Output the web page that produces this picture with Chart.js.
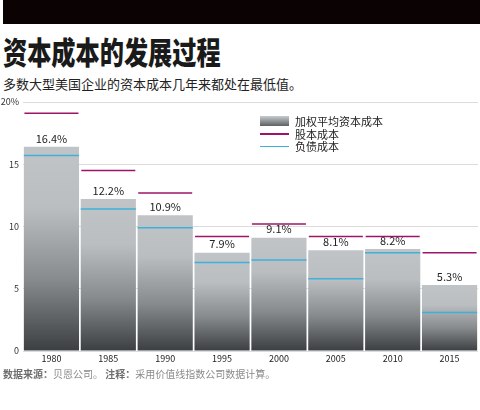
<!DOCTYPE html>
<html>
<head>
<meta charset="utf-8">
<script src="https://cdn.jsdelivr.net/npm/chart.js@4.4.1/dist/chart.umd.min.js"></script>
<style>
  body { margin: 0; width: 480px; height: 410px; background: #fff; position: relative; overflow: hidden;
         font-family: "Noto Sans CJK SC", "Noto Sans", sans-serif; }
  #topbar { position: absolute; left: 3px; top: 0; width: 477px; height: 24px; background: #0b0204; }
  #title { position: absolute; left: 3px; top: 35px; font-size: 31px; font-weight: 900; line-height: 1;
           color: #1a1a1a; transform: scaleX(0.78); transform-origin: left top; white-space: nowrap; }
  #subtitle { position: absolute; left: 3px; top: 77px; font-size: 13px; line-height: 1; color: #222; white-space: nowrap; }
  #wrap { position: absolute; left: 0; top: 92px; width: 480px; height: 276px; }
  #legend { position: absolute; left: 260px; top: 115px; font-size: 11px; color: #222; line-height: 12.5px; }
  #legend div { display: flex; align-items: center; height: 12.5px; }
  #legend span.sw { display: inline-block; width: 29px; margin-right: 6px; }
  #note { position: absolute; left: 3px; top: 368px; font-size: 10px; line-height: 12px; color: #8a8a8a; white-space: nowrap; }
  #note b { color: #6d6d6d; }
</style>
</head>
<body>
<div id="topbar"></div>
<div id="title">资本成本的发展过程</div>
<div id="subtitle">多数大型美国企业的资本成本几年来都处在最低值。</div>
<div id="wrap"><canvas id="costChart"></canvas></div>
<div id="legend">
  <div><span class="sw" style="height:10px;background:linear-gradient(#c9ccce,#5d6063);"></span>加权平均资本成本</div>
  <div><span class="sw" style="height:1.5px;background:#9e1468;"></span>股本成本</div>
  <div><span class="sw" style="height:1.5px;background:#3fb1d9;"></span>负债成本</div>
</div>
<div id="note"><b>数据来源：</b>贝恩公司。 <b>注释：</b>采用价值线指数公司数据计算。</div>
<script>
// values (%)
const years = ['1980', '1985', '1990', '1995', '2000', '2005', '2010', '2015'];
const wacc = [16.4, 12.2, 10.9, 7.9, 9.1, 8.1, 8.2, 5.3];
const equityCost = [19.1, 14.5, 12.7, 9.2, 10.2, 9.2, 9.2, 7.9];
const debtCost = [15.7, 11.4, 9.9, 7.1, 7.3, 5.8, 7.9, 3.1];
const yTicks = [0, 5, 10, 15, 20];

const FONT = '"Noto Sans CJK SC", "Noto Sans", sans-serif';
const MARK = 0.06; // half thickness of the cost marks, in %

function barGradient(context) {
    const chart = context.chart;
    const y = chart.scales.y;
    if (!chart.chartArea || !y || context.parsed == null) return '#b9bdc0';
    const top = y.getPixelForValue(context.parsed.y);
    const bottom = y.getPixelForValue(0);
    const g = chart.ctx.createLinearGradient(0, top, 0, bottom);
    g.addColorStop(0, '#c0c4c6');
    g.addColorStop(0.3, '#babec1');
    g.addColorStop(0.65, '#878b8e');
    g.addColorStop(1, '#3c3f42');
    return g;
}

// percentage labels above the bars
const barLabels = {
    id: 'barLabels',
    afterDatasetsDraw(chart) {
        const meta = chart.getDatasetMeta(0);
        const ctx = chart.ctx;
        ctx.save();
        ctx.font = '11px ' + FONT;
        ctx.fillStyle = '#222';
        ctx.textAlign = 'center';
        ctx.textBaseline = 'bottom';
        meta.data.forEach((bar, i) => {
            ctx.fillText(wacc[i].toFixed(1) + '%', bar.x, bar.y - 3);
        });
        ctx.restore();
    }
};

new Chart(document.getElementById('costChart'), {
    type: 'bar',
    data: {
        labels: years,
        datasets: [{
            label: '加权平均资本成本',
            data: wacc,
            backgroundColor: barGradient,
            barPercentage: 0.97,
            categoryPercentage: 1,
            grouped: false,
            order: 2
        }, {
            label: '股本成本',
            data: equityCost.map(v => [v - MARK, v + MARK]),
            backgroundColor: '#9e1468',
            barPercentage: 0.95,
            categoryPercentage: 1,
            grouped: false,
            order: 1
        }, {
            label: '负债成本',
            data: debtCost.map(v => [v - MARK, v + MARK]),
            backgroundColor: '#3fb1d9',
            barPercentage: 0.97,
            categoryPercentage: 1,
            grouped: false,
            order: 0
        }]
    },
    options: {
        responsive: true,
        maintainAspectRatio: false,
        animation: false,
        layout: { padding: { top: 10, right: 2, left: 0, bottom: 0 } },
        scales: {
            x: {
                grid: { display: false, drawTicks: false },
                border: { display: false },
                ticks: { color: '#222', font: { size: 9, family: FONT }, padding: 2, maxRotation: 0 },
                afterFit(scale) { scale.height = 17; }
            },
            y: {
                min: 0,
                max: 20,
                afterBuildTicks(scale) { scale.ticks = yTicks.map(v => ({ value: v })); },
                grid: { color: '#dcdcdc', drawTicks: false },
                border: { display: false },
                ticks: {
                    color: '#333',
                    font: { size: 9, family: FONT },
                    padding: 4,
                    callback: v => v === 20 ? '20%' : v
                },
                afterFit(scale) { scale.width = 23; }
            }
        },
        plugins: {
            legend: { display: false },
            tooltip: { enabled: false }
        }
    },
    plugins: [barLabels]
});
</script>
</body>
</html>
